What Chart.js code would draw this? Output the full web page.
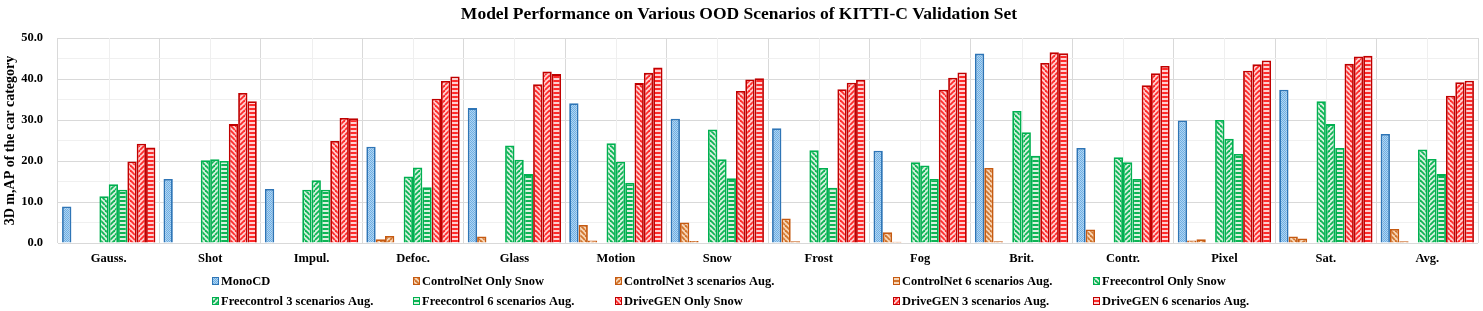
<!DOCTYPE html>
<html>
<head>
<meta charset="utf-8">
<script src="https://cdn.jsdelivr.net/npm/chart.js@4.4.1/dist/chart.umd.min.js"></script>
<style>
  html, body { margin: 0; padding: 0; background: #fff; }
</style>
</head>
<body>
<canvas id="chart" width="1483" height="311"></canvas>
<script>
// KITTI-C OOD scenarios, 3D mAP (car)
const categories = ['Gauss.', 'Shot', 'Impul.', 'Defoc.', 'Glass', 'Motion', 'Snow', 'Frost', 'Fog', 'Brit.', 'Contr.', 'Pixel', 'Sat.', 'Avg.'];

const monoCD     = [8.9, 15.6, 13.2, 23.5, 32.9, 34.1, 30.3, 28.0, 22.5, 46.2, 23.2, 29.9, 37.4, 26.6];
const cnOnlySnow = [0, 0, 0, 0.9, 1.6, 4.4, 5.0, 6.0, 2.6, 18.3, 3.3, 0.6, 1.6, 3.4];
const cn3Aug     = [0, 0, 0, 1.7, 0, 0.6, 0.5, 0.4, 0.3, 0.4, 0.15, 0.9, 1.1, 0.4];
const cn6Aug     = [0, 0, 0, 0, 0, 0, 0, 0, 0, 0, 0, 0, 0, 0];
const fcOnlySnow = [11.4, 20.2, 13.0, 16.2, 23.8, 24.3, 27.7, 22.6, 19.7, 32.2, 20.9, 30.0, 34.6, 22.8];
const fc3Aug     = [14.3, 20.4, 15.3, 18.4, 20.3, 19.8, 20.4, 18.3, 18.9, 27.0, 19.7, 25.4, 29.0, 20.5];
const fc6Aug     = [13.0, 20.0, 13.0, 13.6, 16.8, 14.7, 15.8, 13.5, 15.6, 21.3, 15.6, 21.7, 23.2, 16.8];
const dgOnlySnow = [19.9, 29.0, 24.9, 35.2, 38.7, 39.0, 37.1, 37.5, 37.4, 43.9, 38.5, 42.0, 43.7, 35.9];
const dg3Aug     = [24.2, 36.6, 30.5, 39.5, 41.8, 41.5, 39.9, 39.1, 40.3, 46.5, 41.4, 43.6, 45.5, 39.2];
const dg6Aug     = [23.3, 34.6, 30.4, 40.6, 41.2, 42.8, 40.2, 39.8, 41.6, 46.3, 43.2, 44.5, 45.7, 39.6];

const yTicks = [0, 10, 20, 30, 40, 50];

const serif = "'Liberation Serif', 'Times New Roman', serif";

const canvas = document.getElementById('chart');
const ctx = canvas.getContext('2d');

// small fill patterns like the office-style hatches
function makePattern(bg, fg, kind) {
  const s = kind === 'horiz' ? 4 : (kind === 'dots' ? 2 : 5);
  const c = document.createElement('canvas');
  c.width = s;
  c.height = s;
  const p = c.getContext('2d');
  p.fillStyle = bg;
  p.fillRect(0, 0, s, s);
  p.fillStyle = fg;
  p.strokeStyle = fg;
  if (kind === 'horiz') {
    p.fillRect(0, 0, s, 2);
  } else if (kind === 'dots') {
    p.fillRect(0, 0, 1, 1);
    p.fillRect(1, 1, 1, 1);
  } else {
    p.lineWidth = 1.8;
    for (const k of [-s, 0, s]) {
      p.beginPath();
      if (kind === 'down') { p.moveTo(k, 0); p.lineTo(k + s, s); }
      else { p.moveTo(k, s); p.lineTo(k + s, 0); }
      p.stroke();
    }
  }
  return ctx.createPattern(c, 'repeat');
}

const blue = { border: '#2e75b6', bg: '#b0d5f3', fg: '#6eaee2' };
const orange = { border: '#c55a11', bg: '#f8d6b6', fg: '#d2742c' };
const green = { border: '#00b050', bg: '#d8f1df', fg: '#0db455' };
const red = { border: '#c00000', bg: '#ffd0d0', fg: '#ff2a2a' };

function series(label, data, col, kind) {
  return {
    label,
    data,
    backgroundColor: makePattern(col.bg, col.fg, kind),
    borderColor: col.border,
    borderWidth: 1.8,
    barPercentage: 1.0,
    categoryPercentage: 0.92,
  };
}

const datasets = [
  series('MonoCD', monoCD, blue, 'dots'),
  series('ControlNet Only Snow', cnOnlySnow, orange, 'down'),
  series('ControlNet 3 scenarios Aug.', cn3Aug, orange, 'up'),
  series('ControlNet 6 scenarios Aug.', cn6Aug, orange, 'horiz'),
  series('Freecontrol Only Snow', fcOnlySnow, green, 'down'),
  series('Freecontrol 3 scenarios Aug.', fc3Aug, green, 'up'),
  series('Freecontrol 6 scenarios Aug.', fc6Aug, green, 'horiz'),
  series('DriveGEN Only Snow', dgOnlySnow, red, 'down'),
  series('DriveGEN 3 scenarios Aug.', dg3Aug, red, 'up'),
  series('DriveGEN 6 scenarios Aug.', dg6Aug, red, 'horiz'),
];

// light lines through the middle of each category
const centerLines = {
  id: 'centerLines',
  beforeDatasetsDraw(chart) {
    const { ctx, chartArea, scales: { x } } = chart;
    ctx.save();
    ctx.strokeStyle = '#efefef';
    ctx.lineWidth = 1;
    categories.forEach((c, i) => {
      const px = Math.round(x.getPixelForValue(i)) + 0.5;
      ctx.beginPath();
      ctx.moveTo(px, chartArea.top);
      ctx.lineTo(px, chartArea.bottom);
      ctx.stroke();
    });
    ctx.restore();
  },
};

// legend in a fixed 5-column grid
const legendCols = [212, 413, 615, 893, 1093];
const legendRows = [281, 301];
const gridLegend = {
  id: 'gridLegend',
  afterDraw(chart) {
    const ctx = chart.ctx;
    ctx.save();
    ctx.font = `bold 12.5px ${serif}`;
    ctx.textBaseline = 'middle';
    chart.data.datasets.forEach((ds, i) => {
      const x = legendCols[i % 5];
      const y = legendRows[Math.floor(i / 5)];
      ctx.fillStyle = ds.backgroundColor;
      ctx.fillRect(x, y - 4, 7, 8);
      ctx.strokeStyle = ds.borderColor;
      ctx.lineWidth = 1;
      ctx.strokeRect(x + 0.5, y - 3.5, 6, 7);
      ctx.fillStyle = '#000';
      ctx.fillText(ds.label, x + 9, y + 1);
    });
    ctx.restore();
  },
};

new Chart(ctx, {
  type: 'bar',
  data: { labels: categories, datasets },
  options: {
    responsive: false,
    animation: false,
    devicePixelRatio: 1,
    layout: { padding: { left: 0, right: 5, top: 0, bottom: 37 } },
    plugins: {
      legend: { display: false },
      tooltip: { enabled: false },
      title: {
        display: true,
        text: 'Model Performance on Various OOD Scenarios of KITTI-C Validation Set',
        color: '#000',
        font: { family: serif, size: 17.5, weight: 'bold' },
        padding: { top: 4, bottom: 13 },
      },
    },
    scales: {
      x: {
        grid: { color: '#d9d9d9', drawTicks: false },
        border: { display: false },
        ticks: {
          color: '#000',
          font: { family: serif, size: 12.5, weight: 'bold' },
          padding: 8,
          maxRotation: 0,
          autoSkip: false,
        },
      },
      y: {
        min: 0,
        max: 50,
        afterFit: (scale) => { scale.width = 58; },
        grid: {
          drawTicks: false,
          color: (c) => (yTicks.includes(c.tick.value) ? '#d9d9d9' : '#f0f0f0'),
        },
        border: { display: false },
        ticks: {
          stepSize: 5,
          color: '#000',
          padding: 15,
          font: { family: serif, size: 12.5, weight: 'bold' },
          callback: (v) => (yTicks.includes(v) ? v.toFixed(1) : ''),
        },
        title: {
          display: true,
          text: '3D m,AP of the car category',
          color: '#000',
          font: { family: serif, size: 14, weight: 'bold' },
          padding: { top: 2, bottom: 0 },
        },
      },
    },
  },
  plugins: [centerLines, gridLegend],
});
</script>
</body>
</html>
